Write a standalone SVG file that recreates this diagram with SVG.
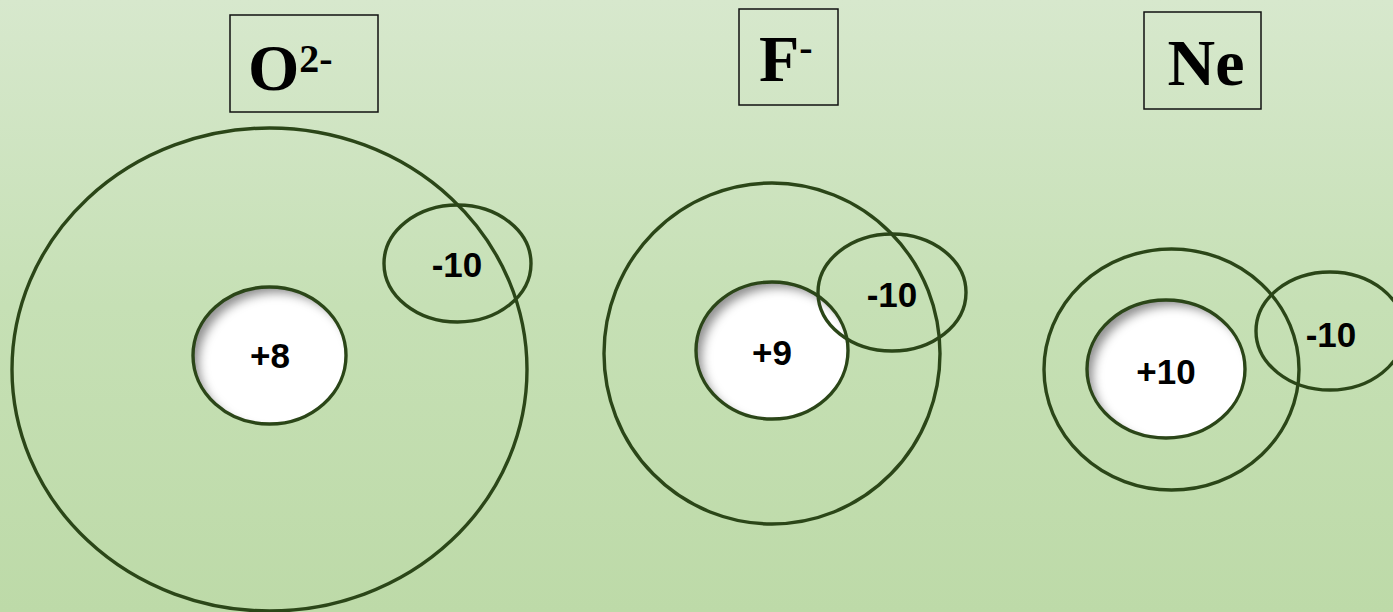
<svg xmlns="http://www.w3.org/2000/svg" width="1393" height="612" viewBox="0 0 1393 612">
<defs>
<linearGradient id="bg" x1="0" y1="0" x2="0" y2="1">
<stop offset="0" stop-color="#d7e8cd"/>
<stop offset="0.5" stop-color="#c6e0b5"/>
<stop offset="1" stop-color="#bddaa8"/>
</linearGradient>
<filter id="inset" x="-10%" y="-10%" width="120%" height="120%">
<feGaussianBlur in="SourceAlpha" stdDeviation="5"/>
<feOffset dx="7" dy="7" result="b"/>
<feComposite in="SourceAlpha" in2="b" operator="out" result="s"/>
<feFlood flood-color="#808080" flood-opacity="0.9"/>
<feComposite in2="s" operator="in" result="shadow"/>
<feMerge><feMergeNode in="SourceGraphic"/><feMergeNode in="shadow"/></feMerge>
</filter>
</defs>
<style>
.ring{fill:none;stroke:#2b4618;stroke-width:3.4}
.nuc{fill:#ffffff}
.box{fill:none;stroke:#111;stroke-width:1.5}
.num{font-family:"Liberation Sans",Arial,sans-serif;font-weight:bold;font-size:35px;fill:#000;text-anchor:middle}
.ttl{font-family:"Liberation Serif","Times New Roman",serif;font-weight:bold;font-size:66px;fill:#000}
.sup{font-size:40px}
</style>
<rect width="1393" height="612" fill="url(#bg)"/>
<g id="oxygen">
<rect class="box" x="230" y="15" width="148" height="97"/>
<text class="ttl" x="248" y="90" font-size="68">O<tspan class="sup" dy="-18">2-</tspan></text>
<ellipse class="ring" cx="269.5" cy="369.5" rx="257.5" ry="241.5"/>
<ellipse class="nuc" cx="269.5" cy="355.5" rx="76.5" ry="68.5" filter="url(#inset)"/>
<ellipse class="ring" cx="269.5" cy="355.5" rx="76.5" ry="68.5" stroke-width="2"/>
<text class="num" x="270" y="368">+8</text>
<ellipse class="ring" cx="457.5" cy="263.5" rx="73.5" ry="58.5"/>
<text class="num" x="457" y="277">-10</text>
</g>
<g id="fluorine">
<rect class="box" x="739" y="9" width="99" height="96"/>
<text class="ttl" x="759" y="81">F<tspan class="sup" dy="-20">-</tspan></text>
<ellipse class="ring" cx="772" cy="353.5" rx="168" ry="170.5"/>
<ellipse class="nuc" cx="772" cy="350.5" rx="76" ry="68.5" filter="url(#inset)"/>
<ellipse class="ring" cx="772" cy="350.5" rx="76" ry="68.5" stroke-width="2"/>
<text class="num" x="772" y="365">+9</text>
<ellipse class="ring" cx="892" cy="292.5" rx="74" ry="58.5"/>
<text class="num" x="892" y="307">-10</text>
</g>
<g id="neon">
<rect class="box" x="1144" y="12" width="117" height="97"/>
<text class="ttl" x="1206" y="85" text-anchor="middle">Ne</text>
<ellipse class="ring" cx="1171.5" cy="369.5" rx="127.5" ry="120.5"/>
<ellipse class="nuc" cx="1166" cy="369" rx="79" ry="69" filter="url(#inset)"/>
<ellipse class="ring" cx="1166" cy="369" rx="79" ry="69" stroke-width="2"/>
<text class="num" x="1166" y="384">+10</text>
<ellipse class="ring" cx="1330" cy="331" rx="74" ry="59"/>
<text class="num" x="1331" y="347">-10</text>
</g>
<g id="connectors"/>
</svg>
